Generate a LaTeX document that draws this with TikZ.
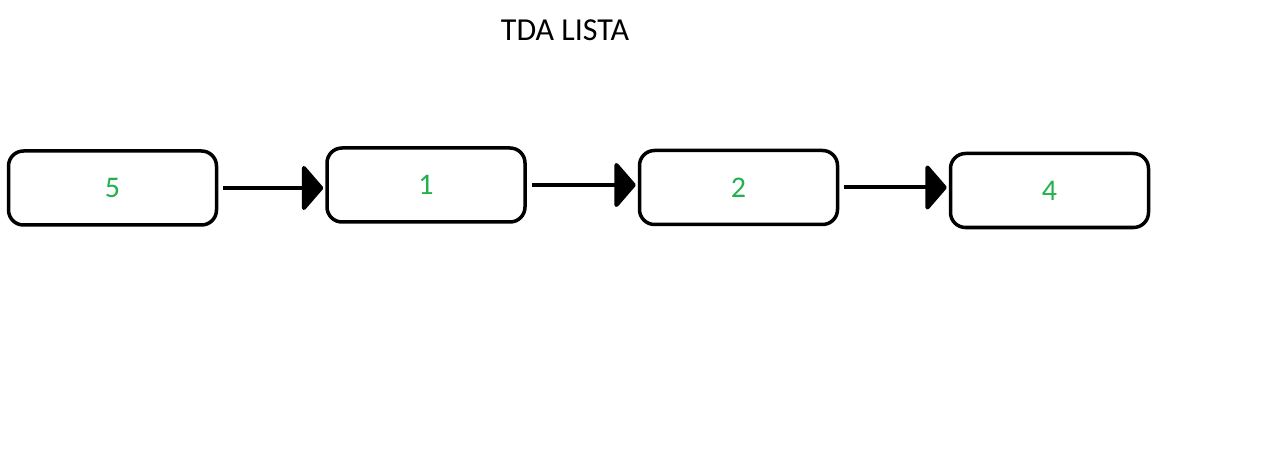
\documentclass[tikz,border=0pt]{standalone}
\usepackage{fontspec}
\setmainfont{Carlito}
\usepackage{tikz}
\usetikzlibrary{arrows.meta, positioning}

\definecolor{paintgreen}{RGB}{34,177,76}

\begin{document}
\begin{tikzpicture} [x=1pt, y=-1pt, node distance = 109pt,
  box/.style = {draw, line width=3.5pt, rounded corners=15pt,
    minimum width=198pt, minimum height=74pt, text=paintgreen,
    font=\fontsize{30}{30}\selectfont},
  link/.style = {line width=4pt, -{Triangle[length=22pt, width=50pt, round]},
    shorten <=5pt, shorten >=2pt}]

\useasboundingbox (0,0) rectangle (1274,473);

\node (title) at (565,30) {\fontsize{32}{32}\selectfont TDA LISTA};

% list nodes
\node (n5) [box, minimum width=208pt] at (112.5,188) {5};
\node (n1) [box, right = 107pt of n5, yshift=3pt] {1};
\node (n2) [box, right = 111pt of n1, yshift=-2.5pt] {2};
\node (n4) [box, right = 109.5pt of n2, yshift=-3pt] {4};

% links
\draw [link] (n5) -- (n5 -| n1.west);
\draw [link] (n1) -- (n1 -| n2.west);
\draw [link] (n2) -- (n2 -| n4.west);

\end{tikzpicture}
\end{document}
